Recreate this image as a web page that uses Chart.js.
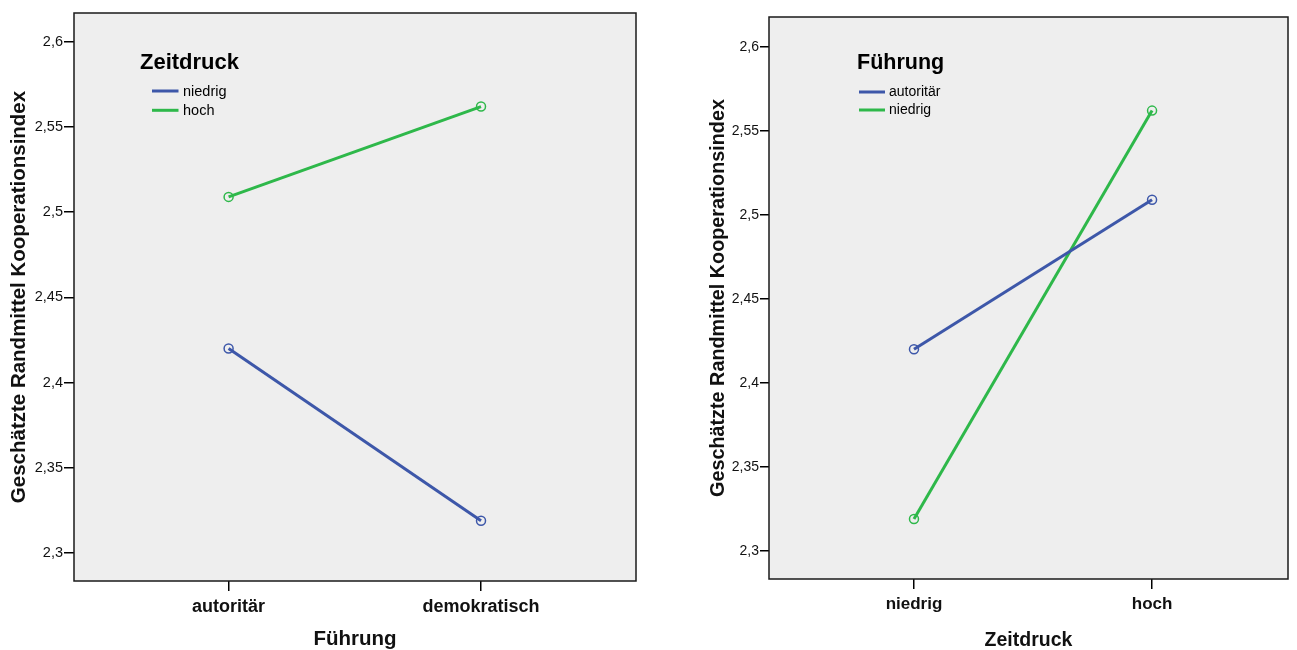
<!DOCTYPE html>
<html>
<head>
<meta charset="utf-8">
<script src="https://cdn.jsdelivr.net/npm/chart.js@4/dist/chart.umd.min.js"></script>
<style>
  html, body { margin: 0; padding: 0; background: #fff; }
  body { width: 1297px; height: 650px; position: relative; overflow: hidden; }
  .panel { position: absolute; top: 0; }
</style>
</head>
<body>
<div class="panel" style="left:0;width:650px;height:650px"><canvas id="left"></canvas></div>
<div class="panel" style="left:700px;width:597px;height:650px"><canvas id="right"></canvas></div>
<script>
// Estimated marginal means of the cooperation index
const fuehrung = ['autoritär', 'demokratisch'];
const zeitdruck = ['niedrig', 'hoch'];
// Means by Führung for Zeitdruck niedrig / hoch
const zeitdruckNiedrig = [2.420, 2.319];   // autoritär, demokratisch
const zeitdruckHoch    = [2.509, 2.562];   // autoritär, demokratisch
// Right panel: means by Zeitdruck for each Führung group
const fuehrungAutoritaer = [2.420, 2.509]; // niedrig, hoch
const fuehrungNiedrig    = [2.319, 2.562]; // niedrig, hoch (label as printed)
const yTicks = [2.3, 2.35, 2.4, 2.45, 2.5, 2.55, 2.6];

const BLUE = '#3d57a9';
const GREEN = '#2eb84a';
const FONT = '"Liberation Sans", Arial, sans-serif';

function fmt(v) { return String(+v.toFixed(2)).replace('.', ','); }

// Plot background, box frame and inline legend
const framePlugin = {
  id: 'frame',
  beforeDatasetsDraw(chart) {
    const a = chart.chartArea, c = chart.ctx;
    c.save();
    c.fillStyle = '#eeeeee';
    c.fillRect(a.left, a.top, a.right - a.left, a.bottom - a.top);
    c.restore();
  },
  afterDatasetsDraw(chart, args, opts) {
    const a = chart.chartArea, c = chart.ctx;
    c.save();
    c.strokeStyle = '#1a1a1a';
    c.lineWidth = 1.5;
    c.strokeRect(a.left, a.top, a.right - a.left, a.bottom - a.top);
    // legend
    const L = opts.legend;
    const x0 = a.left + L.dx, y0 = a.top + L.dy;
    c.fillStyle = '#000';
    c.textBaseline = 'middle';
    c.font = 'bold ' + L.titleSize + 'px ' + FONT;
    c.fillText(L.title, x0, y0);
    c.font = L.itemSize + 'px ' + FONT;
    chart.data.datasets.forEach((ds, i) => {
      const y = y0 + L.firstDy + i * L.step;
      c.strokeStyle = ds.borderColor;
      c.lineWidth = 3;
      c.beginPath();
      c.moveTo(x0 + L.lineX0, y);
      c.lineTo(x0 + L.lineX1, y);
      c.stroke();
      c.fillStyle = '#000';
      c.fillText(ds.label, x0 + L.labelX, y + 0.5);
    });
    c.restore();
  }
};

function makeChart(id, cats, series, xTitle, legend, layout) {
  const datasets = series.map(s => ({
    label: s.label,
    data: s.values.map((v, i) => ({ x: i, y: v })),
    borderColor: s.color,
    backgroundColor: 'rgba(0,0,0,0)',
    borderWidth: 3,
    pointRadius: 4.5,
    pointBorderWidth: 1.5,
    pointBackgroundColor: 'rgba(0,0,0,0)',
    pointBorderColor: s.color,
    tension: 0
  }));
  return new Chart(document.getElementById(id), {
    type: 'line',
    data: { datasets },
    plugins: [framePlugin],
    options: {
      responsive: true,
      maintainAspectRatio: false,
      animation: false,
      layout: { padding: { top: layout.top, right: layout.right, left: 0, bottom: 0 } },
      plugins: {
        legend: { display: false },
        tooltip: { enabled: false },
        frame: { legend }
      },
      scales: {
        x: {
          type: 'linear',
          min: layout.xMin, max: layout.xMax,
          afterBuildTicks: s => { s.ticks = cats.map((_, i) => ({ value: i })); },
          afterFit: s => { s.height = layout.xAxisH; },
          grid: { drawOnChartArea: false, drawTicks: true, tickLength: 10, color: '#000', lineWidth: 1.5 },
          border: { display: false },
          ticks: {
            color: '#111', padding: layout.xTickPad,
            font: { family: FONT, size: layout.xTickSize, weight: 'bold' },
            callback: v => cats[v]
          },
          title: {
            display: true, text: xTitle, color: '#111',
            font: { family: FONT, size: layout.xTitleSize, weight: 'bold', lineHeight: 1 },
            padding: { top: layout.xTitlePad, bottom: 0 }
          }
        },
        y: {
          type: 'linear',
          min: layout.yMin, max: layout.yMax,
          afterBuildTicks: s => { s.ticks = yTicks.map(v => ({ value: v })); },
          afterFit: s => { s.width = layout.yAxisW; },
          grid: { drawOnChartArea: false, drawTicks: true, tickLength: layout.yTickLen, color: '#000', lineWidth: 1.5 },
          border: { display: false },
          ticks: {
            color: '#111', padding: 1,
            font: { family: FONT, size: layout.yTickSize },
            callback: v => fmt(v)
          },
          title: {
            display: true, text: 'Geschätzte Randmittel Kooperationsindex', color: '#111',
            font: { family: FONT, size: layout.yTitleSize, weight: 'bold', lineHeight: 1 },
            padding: { top: layout.yTitlePad, bottom: 0 }
          }
        }
      }
    }
  });
}

makeChart('left', fuehrung, [
  { label: 'niedrig', values: zeitdruckNiedrig, color: BLUE },
  { label: 'hoch', values: zeitdruckHoch, color: GREEN }
], 'Führung', {
  title: 'Zeitdruck', titleSize: 22, itemSize: 14.5,
  dx: 66, dy: 50, firstDy: 28, step: 19.3, lineX0: 12, lineX1: 38.5, labelX: 43
}, {
  top: 13, right: 14, yAxisW: 74, xAxisH: 69, yTickLen: 10,
  xMin: -0.6125, xMax: 1.614, yMin: 2.2836, yMax: 2.6169,
  xTickSize: 18, xTickPad: 5, xTitleSize: 20.5, xTitlePad: 1,
  yTickSize: 14.5, yTitleSize: 20.5, yTitlePad: 9.5
});

makeChart('right', zeitdruck, [
  { label: 'autoritär', values: fuehrungAutoritaer, color: BLUE },
  { label: 'niedrig', values: fuehrungNiedrig, color: GREEN }
], 'Zeitdruck', {
  title: 'Führung', titleSize: 21.5, itemSize: 14,
  dx: 88, dy: 46.5, firstDy: 28.5, step: 18, lineX0: 2, lineX1: 28, labelX: 32
}, {
  top: 17, right: 9, yAxisW: 69, xAxisH: 71, yTickLen: 9,
  xMin: -0.609, xMax: 1.571, yMin: 2.2833, yMax: 2.6177,
  xTickSize: 17, xTickPad: 5, xTitleSize: 19.5, xTitlePad: 5,
  yTickSize: 14, yTitleSize: 19.8, yTitlePad: 8.5
});
</script>
</body>
</html>
